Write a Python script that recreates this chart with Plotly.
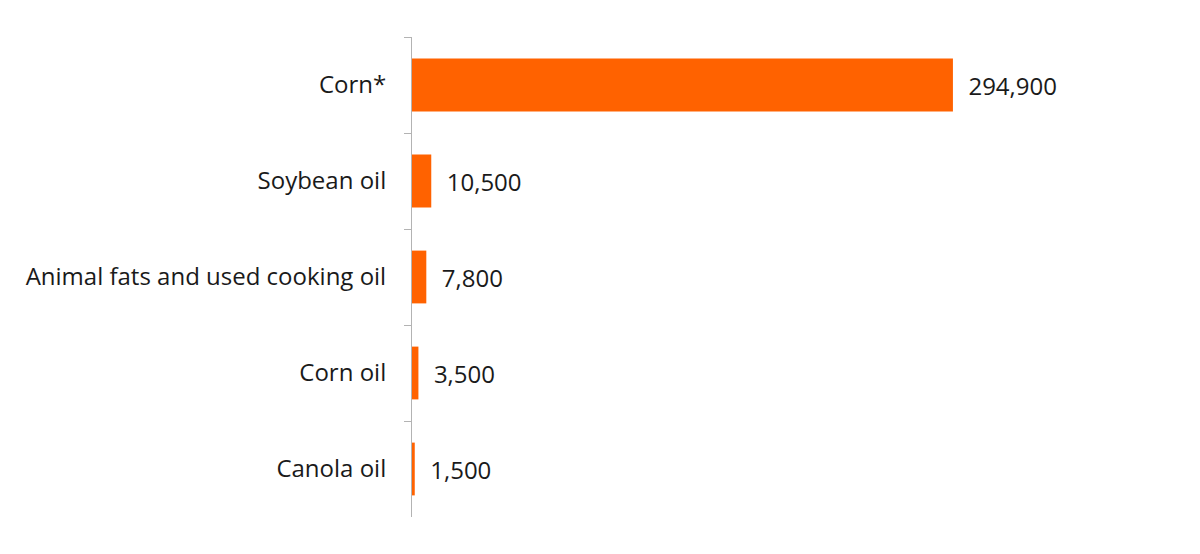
import plotly.graph_objects as go

# Feedstock categories and volumes (top to bottom)
categories = ["Corn*", "Soybean oil", "Animal fats and used cooking oil", "Corn oil", "Canola oil"]
values = [294900, 10500, 7800, 3500, 1500]

fig = go.Figure()
fig.add_bar(
    y=categories,
    x=values,
    orientation="h",
    marker=dict(color="#FF6200", line=dict(width=0)),
    width=0.55,
    text=values,
    texttemplate="\u00a0\u00a0%{x:,}",
    textposition="outside",
    cliponaxis=False,
    textfont=dict(size=24, color="#1a1a1a"),
)

# page body adds an 8px offset, so margins are shifted back by that much
fig.update_layout(
    width=1200, height=554,
    margin=dict(l=404, r=154, t=29, b=45),
    paper_bgcolor="white",
    plot_bgcolor="white",
    font=dict(family="Open Sans", size=24, color="#1a1a1a"),
    showlegend=False,
)
fig.update_yaxes(
    autorange="reversed",
    showline=True, linecolor="#b3b3b3", linewidth=1,
    ticks="outside", tickson="boundaries", ticklen=7, tickcolor="#b3b3b3",
    ticklabelstandoff=20,
    showgrid=False,
)
fig.update_xaxes(range=[0, 350000], visible=False)

fig.write_html("out.html")
